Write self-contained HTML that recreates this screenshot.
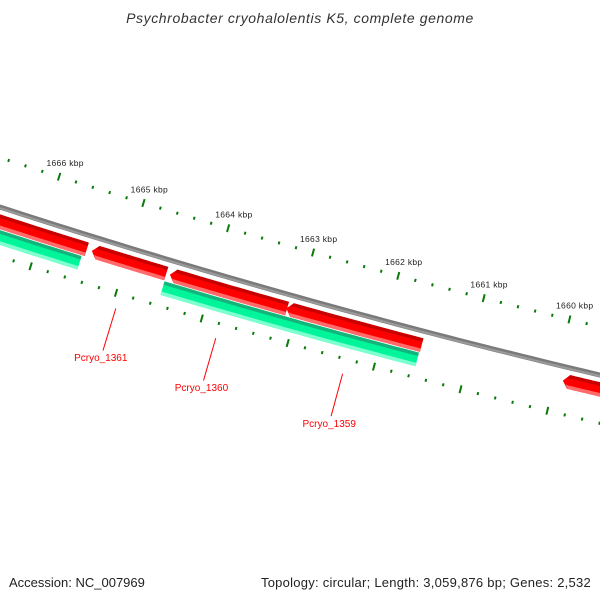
<!DOCTYPE html>
<html><head><meta charset="utf-8"><style>
html,body{margin:0;padding:0;background:#fff;}
svg{display:block;font-family:"Liberation Sans","DejaVu Sans",sans-serif;}
</style></head><body>
<svg id="chart" width="600" height="600" viewBox="0 0 600 600" xmlns="http://www.w3.org/2000/svg">
<text x="300" y="23" text-anchor="middle" font-size="14" letter-spacing="0.6" font-style="italic" fill="#333">Psychrobacter cryohalolentis K5, complete genome</text>
<g id="ticks"></g>
<g id="genes"></g>
<g id="labels"></g>
<text x="9" y="587" font-size="13" fill="#222">Accession: NC_007969</text>
<text x="591" y="587" text-anchor="end" font-size="13" letter-spacing="0.25" fill="#222">Topology: circular; Length: 3,059,876 bp; Genes: 2,532</text>
</svg>
<script>
// data
const tickStart = 1659400, tickEnd = 1666800, tickStep = 200;
const majorTickLabels = ["1660 kbp","1661 kbp","1662 kbp","1663 kbp","1664 kbp","1665 kbp","1666 kbp"];
const majorTickPositions = [1660000,1661000,1662000,1663000,1664000,1665000,1666000];
const forwardGeneStarts = [1665457, 1664524, 1663111, 1661545, 1659200];
const forwardGeneEnds   = [1667600, 1665397, 1664481, 1663120, 1659910];
const forwardArrow      = [false, true, true, true, true];
const reverseGeneStarts = [1665490, 1661553];
const reverseGeneEnds   = [1667600, 1664517];
const geneLabelNames = ["Pcryo_1361","Pcryo_1360","Pcryo_1359"];
const geneLabelPositions = [1664952, 1663788, 1662318];

const NS="http://www.w3.org/2000/svg";
const CX=2350, CY=-7031, PHI0=0.2727, BP0=1663000, K=1.168e-5;
function pt(bp,r){const p=PHI0+(bp-BP0)*K;return [CX-r*Math.sin(p), CY+r*Math.cos(p)];}
function mk(tag,attrs,parent){const e=document.createElementNS(NS,tag);for(const k in attrs)e.setAttribute(k,attrs[k]);parent.appendChild(e);return e;}
function arcPts(b1,b2,r,n){const a=[];for(let i=0;i<=n;i++){a.push(pt(b1+(b2-b1)*i/n,r));}return a;}
function poly(points){return points.map(p=>p[0].toFixed(2)+","+p[1].toFixed(2)).join(" ");}

const tg=document.getElementById('ticks');
const bb=arcPts(1659000,1667600,7610,60);
const bbl=mk('polyline',{points:poly(bb),fill:'none',stroke:'#7a7a7a','stroke-width':5},tg);


const bbh=mk('polyline',{points:poly(arcPts(1659000,1667600,7611,60)),fill:'none',stroke:'#9a9a9a','stroke-width':2},tg);



for(let bp=tickStart;bp<=tickEnd;bp+=tickStep){
  const major=bp%1000===0;
  [7563,7657].forEach(r=>{
    const h=major?4:1.5;
    const a=pt(bp,r-h),b=pt(bp,r+h);
    const l=mk('line',{x1:a[0],y1:a[1],x2:b[0],y2:b[1],stroke:'#0a7a0a','stroke-width':2},tg);
    
    
  });
}
majorTickPositions.forEach((bp,i)=>{
  const p=pt(bp,7552);
  const t=mk('text',{x:p[0]-16,y:p[1],'font-size':8.5,'letter-spacing':0.3,fill:'#222'},tg);
  t.textContent=majorTickLabels[i];
  
  
});

const gg=document.getElementById('genes');
function gene(b1,b2,r1,r2,arrow,cols,name){
  const g=mk('g',{},gg);
  
  
  const al=arrow?65:0;
  const rm=(r1+r2)/2;
  const bodyEnd=b2-al;
  const shape=arcPts(b1,bodyEnd,r1,20).concat(arrow?[pt(b2,rm)]:[]).concat(arcPts(bodyEnd,b1,r2,20));
  mk('polygon',{points:poly(shape),fill:cols[0]},g);
  const dark=arcPts(b1,bodyEnd,r1,20).concat(arrow?[pt(bodyEnd+al*0.4,r1+4)]:[]).concat(arcPts(bodyEnd,b1,r1+3.5,20));
  mk('polygon',{points:poly(dark),fill:cols[1]},g);
  const light=arcPts(b1,bodyEnd,r2-3.5,20).concat(arrow?[pt(bodyEnd+al*0.4,r2-4)]:[]).concat(arcPts(bodyEnd,b1,r2,20));
  mk('polygon',{points:poly(light),fill:cols[2]},g);
}
forwardGeneStarts.forEach((s,i)=>gene(s,forwardGeneEnds[i],7617,7631,forwardArrow[i],['#ff0000','#c80000','#ff6a6a'],'forward-gene'));
reverseGeneStarts.forEach((s,i)=>gene(s,reverseGeneEnds[i],7632,7646,false,['#00f59a','#13b57c','#7dffd0'],'reverse-gene'));

const lg=document.getElementById('labels');
geneLabelNames.forEach((n,i)=>{
  const bp=geneLabelPositions[i];
  const a=pt(bp,7672),b=pt(bp,7716),c=pt(bp,7727);
  const l=mk('line',{x1:a[0],y1:a[1],x2:b[0],y2:b[1],stroke:'#ff0000','stroke-width':1},lg);
  
  
  const t=mk('text',{x:c[0]+1,y:c[1],'text-anchor':'middle','font-size':10,fill:'#ff0000'},lg);
  t.textContent=n;
  
  
});
</script>
</body></html>
